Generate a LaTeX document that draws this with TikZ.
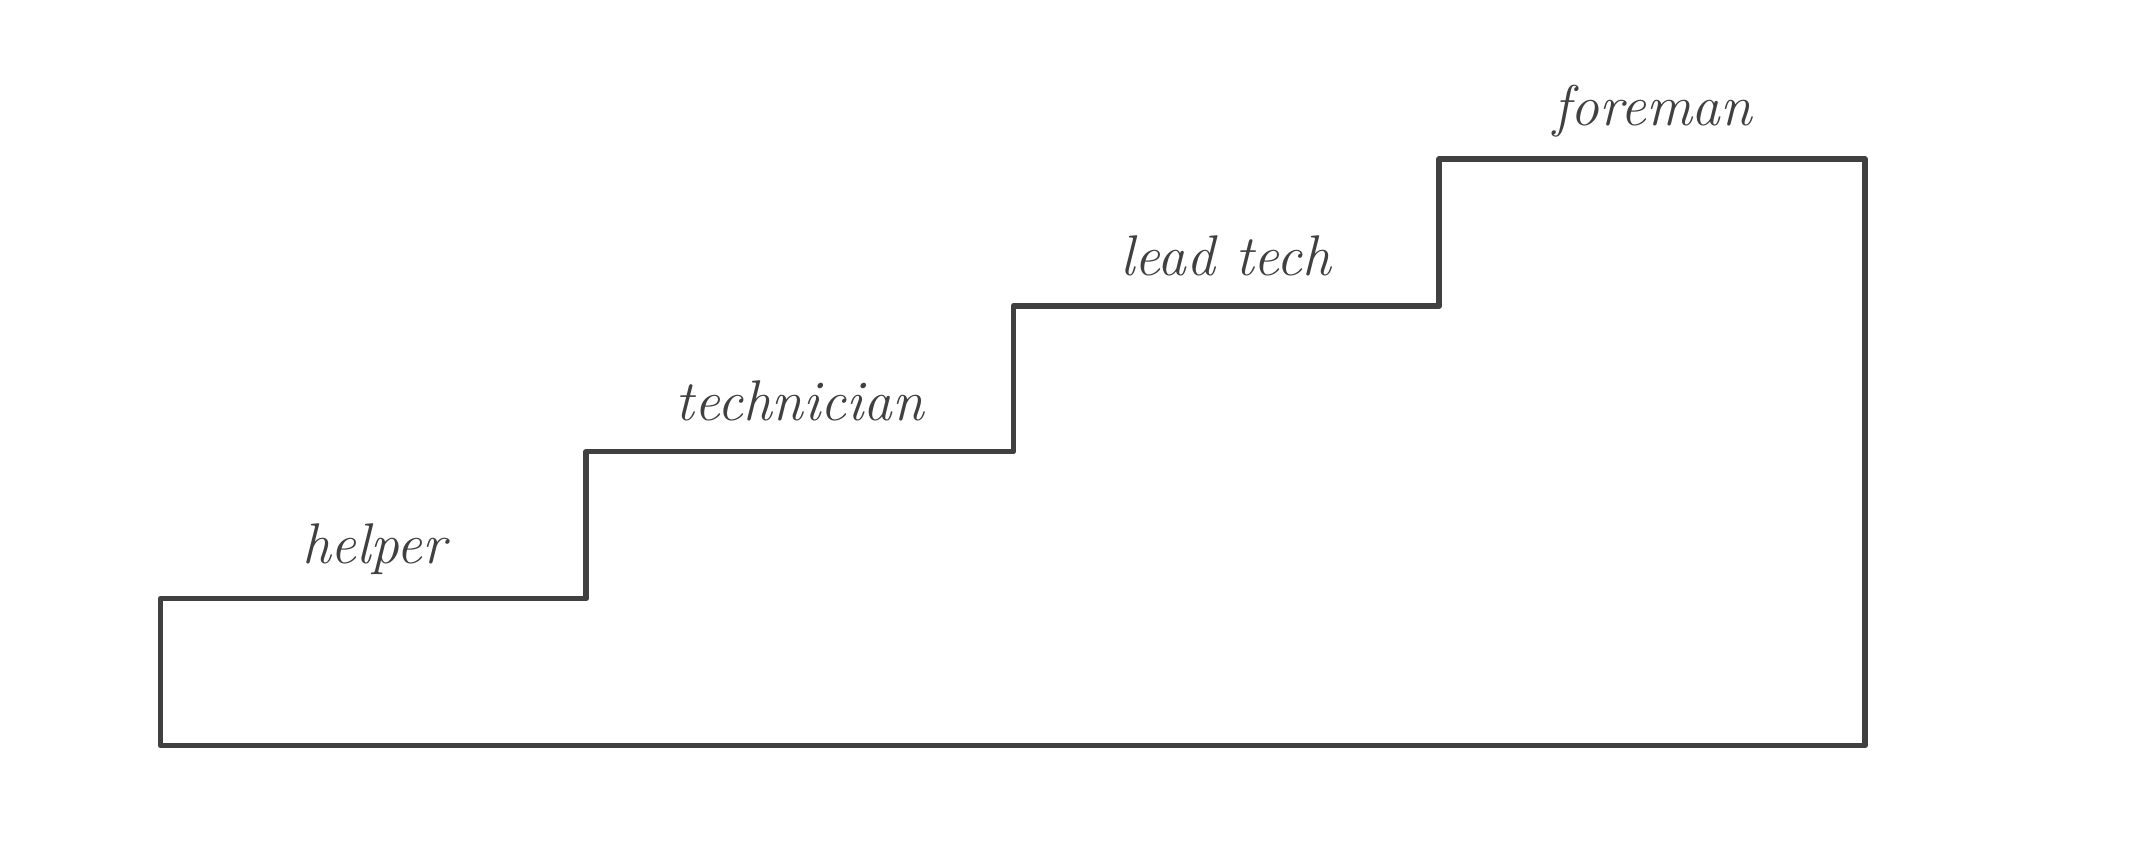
\documentclass[tikz,border=0pt]{standalone}
\usepackage{tikz}

\tikzset{
    stairline/.style={draw=black!75, line width=1.2pt, line join=round},
    steplabel/.style={font=\large\itshape, text=black!75}
}

\begin{document}
\begin{tikzpicture}
        \useasboundingbox (0, 0) rectangle (15.68, 6.27);

        % staircase outline
        \draw[stairline] (1.18, 0.79) -- (1.18, 1.87) -- (4.31, 1.87) -- (4.31, 2.95)
            -- (7.45, 2.95) -- (7.45, 4.02) -- (10.58, 4.02) -- (10.58, 5.10)
            -- (13.71, 5.10) -- (13.71, 0.79) -- cycle;

        % step labels
        \node[steplabel] (helper) at (2.75, 2.23) {helper};
        \node[steplabel] (technician) at (5.88, 3.32) {technician};
        \node[steplabel] (leadtech) at (9.01, 4.39) {lead tech};
        \node[steplabel] (foreman) at (12.15, 5.45) {foreman};
    \end{tikzpicture}
\end{document}
